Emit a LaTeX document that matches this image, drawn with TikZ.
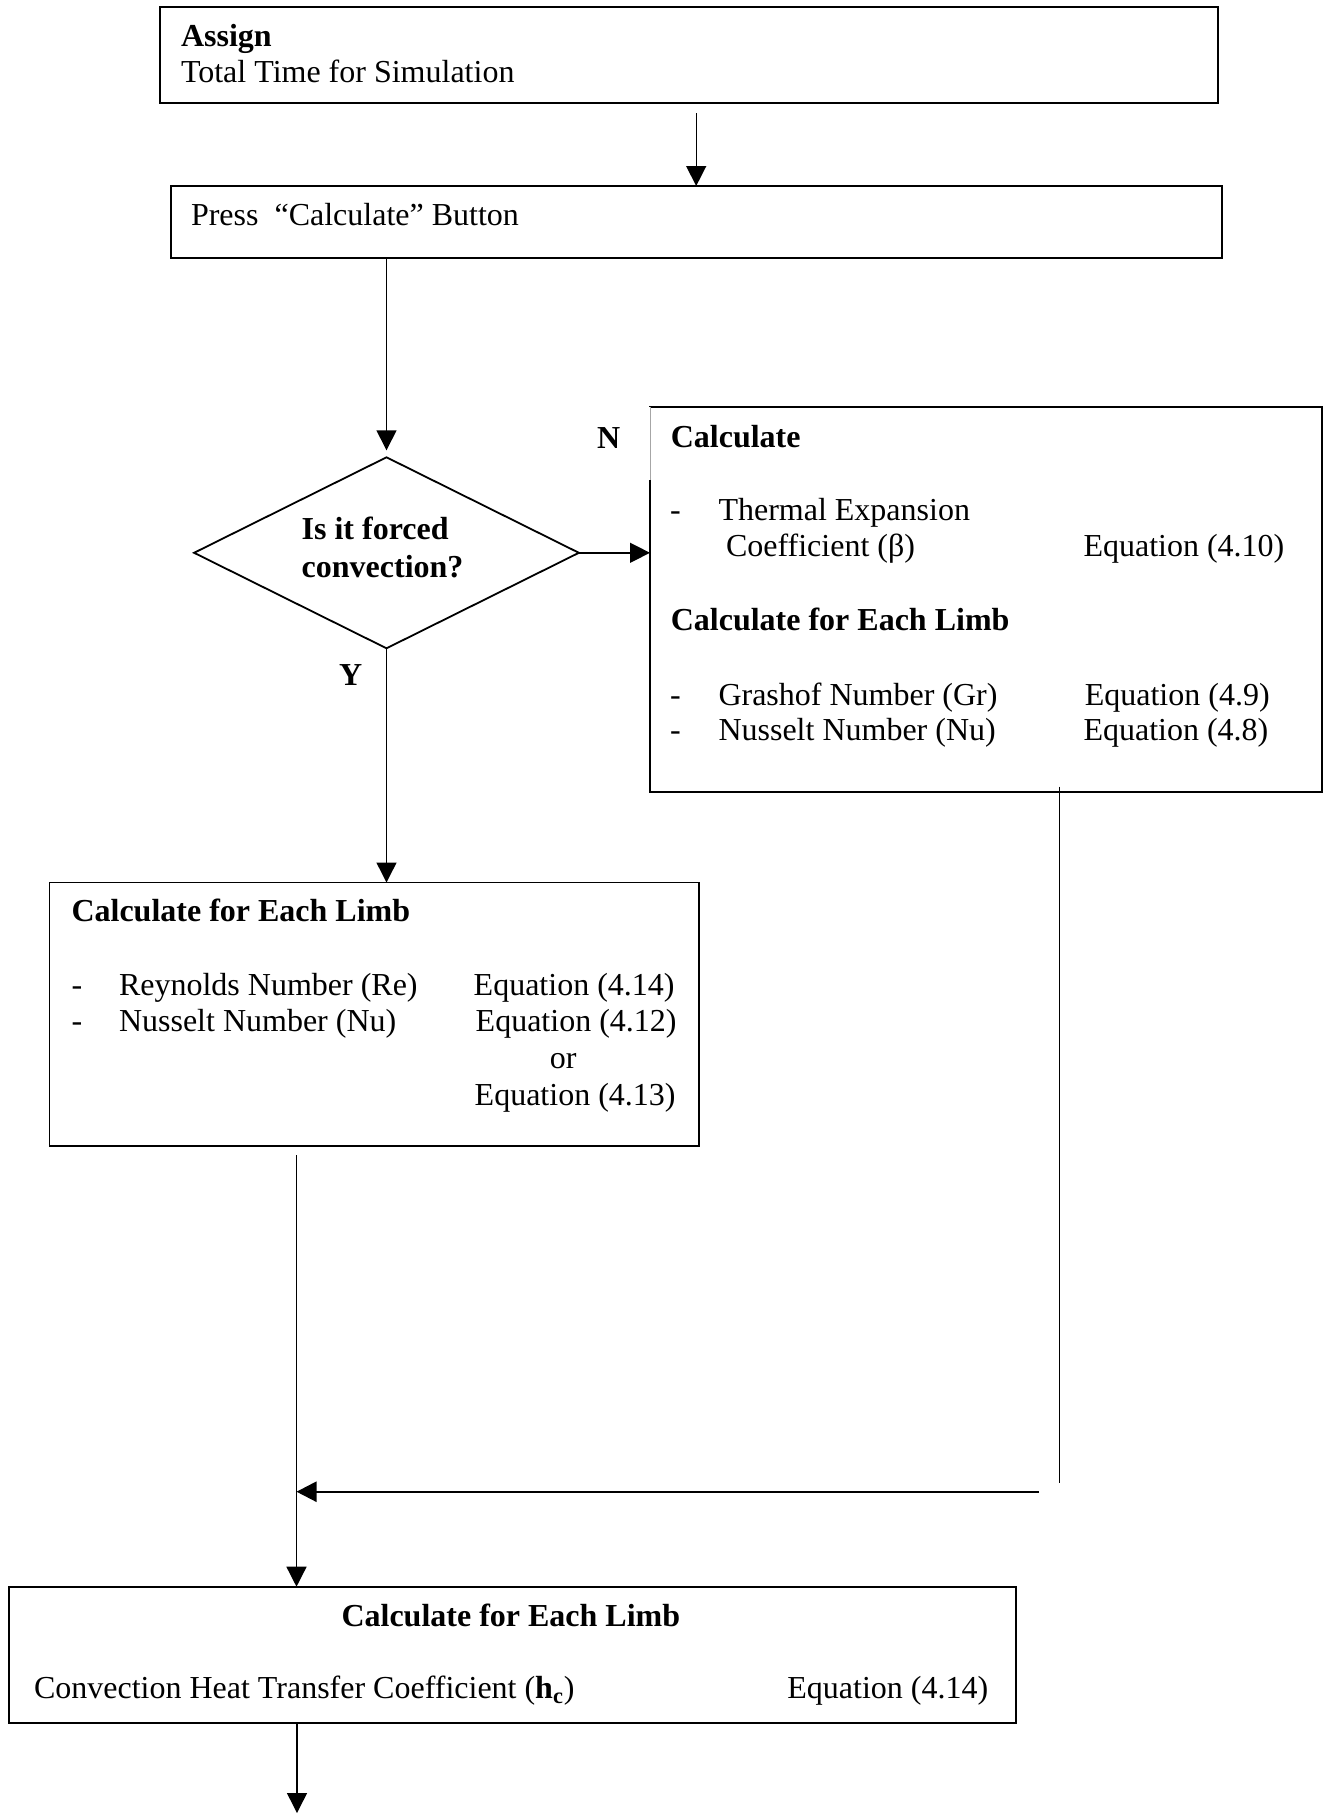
\documentclass[tikz,border=0pt]{standalone}
\usepackage{fontspec}
\setmainfont{Liberation Serif}
\usetikzlibrary{shapes.geometric,arrows.meta,calc}
\begin{document}
\begin{tikzpicture}[x=0.5pt,y=-0.5pt,
  box/.style={draw, line width=0.9pt, rectangle, anchor=north west, inner sep=0pt, outer sep=0pt},
  txt/.style={anchor=base west, inner sep=0pt, outer sep=0pt, font=\fontsize{16pt}{19pt}\selectfont},
  btxt/.style={txt, font=\fontsize{16pt}{19pt}\selectfont\bfseries},
  conn/.style={line width=0.7pt},
  arr/.style={conn, -{Triangle[length=10pt,width=10pt]}},
]
\useasboundingbox (0,0) rectangle (1329,1814);

% boxes
\node[box, minimum width=528.85pt, minimum height=47.7pt] (assign) at (160.3,7.3) {};
\node[box, minimum width=525.5pt, minimum height=35.85pt] (press) at (170.7,186) {};
\node[diamond, draw, line width=0.9pt, inner sep=0pt, outer sep=0pt, minimum width=192.4pt, minimum height=95.5pt] (dia) at (386.5,552.8) {};
\node[box, minimum width=336pt, minimum height=192.35pt] (nat) at (650,407) {};
\node[box, minimum width=324.75pt, minimum height=131.75pt] (forced) at (49.5,882.5) {};
\node[box, minimum width=503.5pt, minimum height=68pt] (calcb) at (9,1586.7) {};

% light top part of the left edge of the right box
\draw[white, line width=1.3pt] (nat.north west) -- ++(0,73);
\draw[black!35, line width=0.4pt] (nat.north west) -- ++(0,73);

% texts
\node[btxt] (t1) at (181,46.7) {Assign};
\node[txt] (t2) at (181,83) {Total Time for Simulation};
\node[txt] (t3) at (191,225) {Press~ “Calculate” Button};
\node[btxt] (t4) at (301.7,539.3) {Is it forced};
\node[btxt] (t5) at (301.7,577.3) {convection?};
\node[btxt] (tN) at (597,448) {N};
\node[btxt] (tY) at (339,685) {Y};

\node[btxt] (t6) at (670.8,447.3) {Calculate};
\node[txt] (t7) at (670,520.7) {-};
\node[txt] (t8) at (718.5,520.7) {Thermal Expansion};
\node[txt] (t9) at (726,556.7) {Coefficient (β)};
\node[txt] (t10) at (1083.5,556.7) {Equation (4.10)};
\node[btxt] (t11) at (670.8,630.7) {Calculate for Each Limb};
\node[txt] (t12) at (670,705) {-};
\node[txt] (t13) at (718.5,705) {Grashof Number (Gr)};
\node[txt] (t14) at (1084.8,705) {Equation (4.9)};
\node[txt] (t15) at (670,740.7) {-};
\node[txt] (t16) at (718.5,740.7) {Nusselt Number (Nu)};
\node[txt] (t17) at (1083.5,740.7) {Equation (4.8)};

\node[btxt] (t18) at (71.5,921.7) {Calculate for Each Limb};
\node[txt] (t19) at (71.5,995) {-};
\node[txt] (t20) at (119,995) {Reynolds Number (Re)};
\node[txt] (t21) at (473.7,995) {Equation (4.14)};
\node[txt] (t22) at (71.5,1031.7) {-};
\node[txt] (t23) at (119,1031.7) {Nusselt Number (Nu)};
\node[txt] (t24) at (475.7,1031.7) {Equation (4.12)};
\node[txt] (t25) at (549.8,1068) {or};
\node[txt] (t26) at (474.7,1105) {Equation (4.13)};

\node[btxt] (t27) at (341.5,1626) {Calculate for Each Limb};
\node[txt] (t28) at (34,1698.3) {Convection Heat Transfer Coefficient (\textbf{h\textsubscript{c}})};
\node[txt] (t29) at (787.4,1698.3) {Equation (4.14)};

% connector points
\coordinate (jx) at (296.5,1491.7);
\coordinate (nx) at (1059.2,1483);
\coordinate (hx) at (1039,1491.7);
\coordinate (endpt) at (297,1813);

% connectors
\draw[arr] ([yshift=-5.3pt]assign.south -| press.north) -- (press.north);
\draw[arr] (press.south -| dia.north) -- ([yshift=3.5pt]dia.north);
\draw[arr] (dia.east) -- (nat.west |- dia.east);
\draw[arr] (dia.south) -- (forced.north -| dia.south);
\draw[arr] ([yshift=-4.5pt]forced.south -| jx) -- (calcb.north -| jx);
\draw[conn] ([yshift=2.5pt]nat.south -| nx) -- (nx);
\draw[line width=1.2pt, -{Triangle[length=10pt,width=10pt]}] (hx) -- (jx);
\draw[arr] (calcb.south -| endpt) -- (endpt);
\end{tikzpicture}
\end{document}
